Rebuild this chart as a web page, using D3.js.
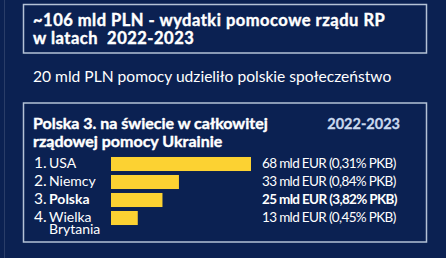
<!DOCTYPE html>
<html>
<head>
<meta charset="utf-8">
<script src="https://cdn.jsdelivr.net/npm/d3@7"></script>
<style>
  body { margin: 0; background: #0b2152; }
  svg { display: block; font-family: Lato, "Open Sans", sans-serif; }
</style>
</head>
<body>
<svg id="chart" width="446" height="258"></svg>
<script>
const countries = ["USA", "Niemcy", "Polska", "Wielka Brytania"];
const ranks = ["1.", "2.", "3.", "4."];
const aidBn = [68, 33, 25, 13];
const gdpShare = ["0,31%", "0,84%", "3,82%", "0,45%"];
const highlight = "Polska";

const rows = countries.map((c, i) => ({
    country: c,
    rank: ranks[i],
    value: aidBn[i],
    share: gdpShare[i]
}));

const width = 446;
const height = 258;
const navy = "#0b2152";
const frame = "#b4c2d6";
const yellow = "#fcd232";

const svg = d3.select("#chart");

svg.append("rect")
    .attr("width", width)
    .attr("height", height)
    .attr("fill", navy);

// faint edge line on the left
svg.append("line")
    .attr("x1", 4.5).attr("x2", 4.5)
    .attr("y1", 0).attr("y2", height)
    .attr("stroke", "#2a3d68")
    .attr("stroke-width", 1);

// top box
svg.append("rect")
    .attr("x", 23.5).attr("y", 4.5)
    .attr("width", 403).attr("height", 48.5)
    .attr("fill", "none")
    .attr("stroke", frame)
    .attr("stroke-width", 1.5);

const headline = svg.append("text")
    .attr("fill", "#fff")
    .attr("stroke", "#fff")
    .attr("stroke-width", 0.4)
    .attr("font-weight", 700)
    .attr("font-size", 16.5)
    .attr("letter-spacing", 0.5);
headline.append("tspan").attr("x", 33).attr("y", 26)
    .text("~106 mld PLN - wydatki pomocowe rządu RP");
headline.append("tspan").attr("x", 33).attr("y", 44)
    .attr("xml:space", "preserve")
    .text("w latach  2022-2023");

svg.append("text")
    .attr("x", 33).attr("y", 82)
    .attr("fill", "#fff")
    .attr("font-size", 15.6)
    .text("20 mld PLN pomocy udzieliło polskie społeczeństwo");

// bottom box
svg.append("rect")
    .attr("x", 23.5).attr("y", 103)
    .attr("width", 403).attr("height", 139)
    .attr("fill", "none")
    .attr("stroke", frame)
    .attr("stroke-width", 1.5);

const sub = svg.append("text")
    .attr("fill", "#fff")
    .attr("stroke", "#fff")
    .attr("stroke-width", 0.4)
    .attr("font-weight", 700)
    .attr("font-size", 16);
sub.append("tspan").attr("x", 33).attr("y", 128.5)
    .text("Polska 3. na świecie w całkowitej");
sub.append("tspan").attr("x", 33).attr("y", 147)
    .text("rządowej pomocy Ukrainie");

svg.append("text")
    .attr("x", 400).attr("y", 128.5)
    .attr("text-anchor", "end")
    .attr("fill", "#c9d8ee")
    .attr("stroke", "#c9d8ee")
    .attr("stroke-width", 0.3)
    .attr("font-weight", 700)
    .attr("font-size", 14.5)
    .text("2022-2023");

const x = d3.scaleLinear()
    .domain([0, d3.max(aidBn)])
    .range([111, 251]);

const y = d3.scaleBand()
    .domain(countries)
    .range([155, 227])
    .paddingInner(0.22)
    .paddingOuter(0.11);

const g = svg.append("g");

const row = g.selectAll("g.row")
    .data(rows)
    .enter()
    .append("g")
    .attr("class", "row");

row.append("rect")
    .attr("x", x(0))
    .attr("y", d => y(d.country))
    .attr("width", d => x(d.value) - x(0))
    .attr("height", y.bandwidth())
    .attr("fill", yellow);

const base = d => y(d.country) + y.bandwidth() - 3;

row.append("text")
    .attr("x", 34)
    .attr("y", base)
    .attr("fill", "#fff")
    .attr("font-size", 15.5)
    .text(d => d.rank);

const label = row.append("text")
    .attr("x", 49)
    .attr("y", base)
    .attr("fill", "#fff")
    .attr("font-size", 14)
    .attr("font-weight", d => d.country === highlight ? 700 : 400);

label.each(function (d) {
    const parts = d.country === "Wielka Brytania" ? ["Wielka", "Brytania"] : [d.country];
    const t = d3.select(this);
    parts.forEach((p, i) => {
        t.append("tspan")
            .attr("x", 49)
            .attr("dy", i === 0 ? 0 : 12)
            .text(p);
    });
});

row.append("text")
    .attr("x", 262)
    .attr("y", base)
    .attr("fill", "#fff")
    .attr("font-size", 13.5)
    .attr("letter-spacing", -0.65)
    .attr("font-weight", d => d.country === highlight ? 700 : 400)
    .text(d => `${d.value} mld EUR (${d.share} PKB)`);
</script>
</body>
</html>
